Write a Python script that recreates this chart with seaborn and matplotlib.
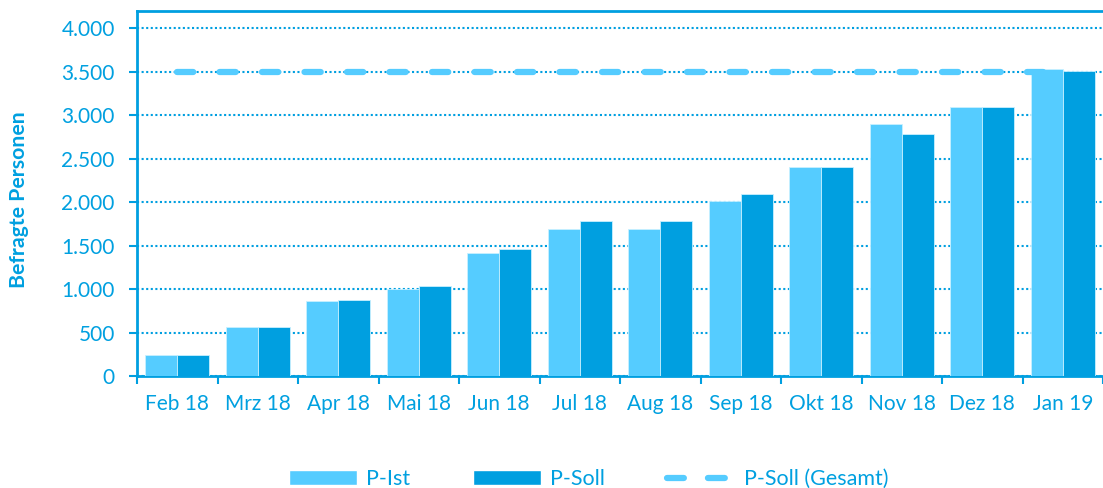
"""Befragte Personen per month: P-Ist vs. P-Soll bars plus overall target line."""

import matplotlib
matplotlib.use("Agg")
import matplotlib.pyplot as plt
import numpy as np
import pandas as pd
import seaborn as sns
from matplotlib.lines import Line2D
from matplotlib.patches import Patch
from matplotlib.ticker import FixedLocator, FuncFormatter, MultipleLocator

MONTHS = ["Feb 18", "Mrz 18", "Apr 18", "Mai 18", "Jun 18", "Jul 18",
          "Aug 18", "Sep 18", "Okt 18", "Nov 18", "Dez 18", "Jan 19"]
P_IST = [240, 560, 860, 1000, 1410, 1690, 1690, 2010, 2400, 2900, 3100, 3530]
P_SOLL = [240, 560, 880, 1040, 1460, 1780, 1780, 2100, 2400, 2780, 3100, 3510]
P_SOLL_GESAMT = [3500] * len(MONTHS)

LIGHT = "#55CCFF"
DARK = "#009FE0"
TEXT = "#00A0E0"

sns.set_theme(style="white")
plt.rcParams["font.family"] = ["Lato", "DejaVu Sans"]

df = pd.DataFrame({
    "Monat": MONTHS * 2,
    "Personen": P_IST + P_SOLL,
    "Serie": ["P-Ist"] * len(MONTHS) + ["P-Soll"] * len(MONTHS),
})

fig = plt.figure(figsize=(11.03, 4.88), dpi=100)
ax = fig.add_axes([137 / 1103, 1 - 376 / 488, 966 / 1103, 365 / 488])

sns.barplot(data=df, x="Monat", y="Personen", hue="Serie", order=MONTHS,
            palette={"P-Ist": LIGHT, "P-Soll": DARK}, saturation=1, width=0.8,
            edgecolor="#C8F0FF", linewidth=0.6, legend=False, ax=ax, zorder=3)

x = np.arange(len(MONTHS))
ax.plot(x, P_SOLL_GESAMT, color=LIGHT, lw=4.5, dashes=(2.6, 4.2),
        dash_capstyle="round", zorder=4)

ax.set_xlim(-0.5, len(MONTHS) - 0.5)
ax.set_ylim(0, 4200)
ax.yaxis.set_major_locator(FixedLocator(np.arange(0, 4001, 500)))
ax.yaxis.set_major_formatter(FuncFormatter(lambda v, _: f"{int(v):,}".replace(",", ".")))
ax.grid(axis="y", color=DARK, linestyle=(0, (1, 1.2)), lw=1.5, zorder=0)
ax.set_axisbelow(True)

# month labels centred on categories, tick marks between categories
ax.xaxis.set_major_locator(MultipleLocator(1, offset=0.5))
ax.xaxis.set_major_formatter(FuncFormatter(lambda v, _: ""))
ax.xaxis.set_minor_locator(FixedLocator(x))
ax.xaxis.set_minor_formatter(FuncFormatter(lambda v, _: MONTHS[int(round(v))]))
ax.tick_params(axis="x", which="major", length=6, width=1.5, color=DARK, direction="out")
ax.tick_params(axis="x", which="minor", length=0, pad=13, labelsize=15, labelcolor=TEXT)
ax.tick_params(axis="y", length=6, width=1.5, color=DARK, direction="out",
               pad=10, labelsize=15, labelcolor=TEXT)
ax.tick_params(left=True, bottom=True)

for side in ["left", "top", "bottom"]:
    ax.spines[side].set_color(DARK)
    ax.spines[side].set_linewidth(2)
ax.spines["right"].set_visible(False)

ax.set_xlabel("")
ax.set_ylabel("Befragte Personen", color=TEXT, fontsize=15.3, fontweight="bold")
ax.yaxis.set_label_coords(-0.112, 0.482)

handles = [
    Patch(facecolor=LIGHT, label="P-Ist"),
    Patch(facecolor=DARK, label="P-Soll"),
    Line2D([], [], color=LIGHT, lw=4.5, dashes=(2.7, 3.85), dash_capstyle="round",
           label="P-Soll (Gesamt)"),
]
leg = fig.legend(handles=handles, loc="center", bbox_to_anchor=(589 / 1103, 1 - 479 / 488),
                 ncol=3, frameon=False, fontsize=15.5, handlelength=3.16, handleheight=0.65,
                 columnspacing=2.9, handletextpad=0.42)
for t in leg.get_texts():
    t.set_color(TEXT)

fig.savefig("out.png", dpi=100)
